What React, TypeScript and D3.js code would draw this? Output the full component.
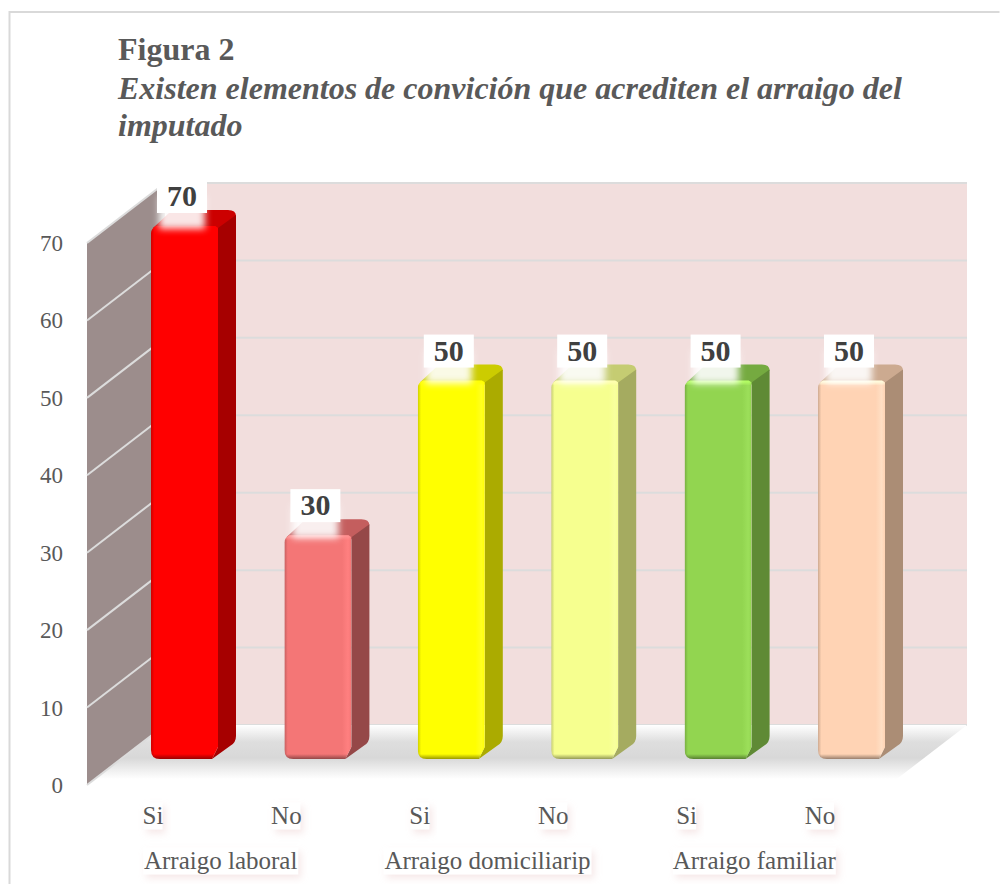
import React from "react";
import * as d3 from "d3";

const categories = ["Si", "No", "Si", "No", "Si", "No"];
const groups = ["Arraigo laboral", "Arraigo domiciliarip", "Arraigo familiar"];
const values = [70, 30, 50, 50, 50, 50];
const yTicks = [0, 10, 20, 30, 40, 50, 60, 70];
const faceColors = ["#FF0000", "#F47676", "#FFFF00", "#F6FF8F", "#92D550", "#FFD3B4"];
const sideColors = ["#A60000", "#954848", "#ABAB00", "#A5AB60", "#5F8A35", "#AB8D75"];
const topColors = ["#CC0000", "#C45E5E", "#CCCC00", "#C5CC72", "#75AA40", "#CCAA90"];
const hiColors = ["#FF0000", "#FF8080", "#FFFF20", "#F8FF9F", "#9CDF5A", "#FFDFC4"];
const labelWidths = [155, 208, 163];

const DX = 78, DY = 60;
const FRONT_LEFT = 87, BACK_RIGHT = 967;
const TEXT = "#595959";

const yFront = d3.scaleLinear().domain([0, 70]).range([785, 243]);
const yBack = (v: number) => yFront(v) - DY;
const yBar = d3.scaleLinear().domain([0, 70]).range([767, 226]);
const BAR_BOTTOM = 759;
const x = d3.scalePoint<number>().domain(d3.range(6)).range([151, 818]);
const BW = 67, SX = 18, SY = 16;
const serif = "'Liberation Serif', serif";

function Label({ cx, cy, text, w, h = 27 }: { cx: number; cy: number; text: string; w: number; h?: number }) {
  return (
    <g>
      <rect x={cx - w / 2} y={cy - h / 2} width={w} height={h} fill="#fff" filter="url(#pinkShadow)" />
      <text x={cx} y={cy + 8} textAnchor="middle" fontFamily={serif} fontSize={25} fill={TEXT}>{text}</text>
    </g>
  );
}

export default function App() {
  const floor = `M${FRONT_LEFT},${yFront(0)}L${FRONT_LEFT + DX},${yBack(0)}L${BACK_RIGHT},${yBack(0)}L${BACK_RIGHT - DX},${yFront(0)}Z`;
  const wall = `M${FRONT_LEFT},${yFront(0)}L${FRONT_LEFT + DX},${yBack(0)}L${FRONT_LEFT + DX},${yBack(70)}L${FRONT_LEFT},${yFront(70)}Z`;
  return (
    <svg width={1000} height={884} style={{ position: "absolute", left: 0, top: 0, display: "block" }}>
      <defs>
        <filter id="pinkShadow" x="-30%" y="-40%" width="170%" height="190%">
          <feDropShadow dx="3" dy="4" stdDeviation="3.5" floodColor="#e8c0c0" floodOpacity="0.35" />
        </filter>
        <filter id="glow" x="-30%" y="-40%" width="160%" height="200%">
          <feGaussianBlur stdDeviation="3.5" />
        </filter>
        <filter id="soft" x="-20%" y="-20%" width="140%" height="140%">
          <feGaussianBlur stdDeviation="1.5" />
        </filter>
        <linearGradient id="floorGrad" gradientUnits="userSpaceOnUse" x1="0" y1={yBack(0)} x2="0" y2={yFront(0)}>
          <stop offset="0" stopColor="#ffffff" />
          <stop offset="0.28" stopColor="#dedede" />
          <stop offset="0.55" stopColor="#d8d8d8" />
          <stop offset="0.78" stopColor="#f2f2f2" />
          <stop offset="0.9" stopColor="#ffffff" />
        </linearGradient>
        <linearGradient id="bottomShade" x1="0" y1="0" x2="0" y2="1">
          <stop offset="0" stopColor="#000" stopOpacity="0" />
          <stop offset="1" stopColor="#000" stopOpacity="0.4" />
        </linearGradient>
        {values.map((_, i) => (
          <linearGradient key={i} id={`face${i}`} x1="0" y1="0" x2="1" y2="0">
            <stop offset="0" stopColor={d3.color(faceColors[i])!.darker(0.6).formatHex()} />
            <stop offset="0.05" stopColor={faceColors[i]} />
            <stop offset="0.86" stopColor={faceColors[i]} />
            <stop offset="0.95" stopColor={hiColors[i]} />
            <stop offset="1" stopColor={faceColors[i]} />
          </linearGradient>
        ))}
        {values.map((v, i) => {
          const x0 = x(i)!, x1 = x0 + BW, top = yBar(v), bot = BAR_BOTTOM;
          return (
            <clipPath key={i} id={`clip${i}`}>
              <path d={`M${x0},${top + 7}Q${x0},${top + 3} ${x0 + 5},${top}H${x1 - 3}L${x1},${top + 2}V${bot - 12}L${x1 - 6},${bot}H${x0 + 9}Q${x0},${bot} ${x0},${bot - 9}Z`} />
            </clipPath>
          );
        })}
      </defs>

      {/* chart frame */}
      <path d="M999.5,12H9.5V884" fill="none" stroke="#d9d9d9" strokeWidth={2} />

      {/* title */}
      <g fontFamily={serif} fontWeight="bold" fill={TEXT}>
        <text x={118} y={60} fontSize={32}>Figura 2</text>
        <text x={118} y={99} fontSize={32} fontStyle="italic">Existen elementos de convición que acrediten el arraigo del</text>
        <text x={118} y={136} fontSize={32} fontStyle="italic">imputado</text>
      </g>

      {/* back wall */}
      <rect x={FRONT_LEFT + DX} y={yBack(70)} width={BACK_RIGHT - FRONT_LEFT - DX} height={yBack(0) - yBack(70)} fill="#F2DEDD" />
      {yTicks.map((t) => (
        <line key={t} x1={FRONT_LEFT + DX} x2={BACK_RIGHT} y1={yBack(t)} y2={yBack(t)} stroke="#dcdcdc" strokeWidth={2} />
      ))}

      {/* floor */}
      <path d={floor} fill="url(#floorGrad)" />

      {/* side wall */}
      <path d={wall} fill="#9C8D8C" />
      {yTicks.map((t) => (
        <line key={t} x1={FRONT_LEFT} x2={FRONT_LEFT + DX} y1={yFront(t)} y2={yBack(t)} stroke="#dcdcdc" strokeWidth={2} />
      ))}

      {/* y axis */}
      {yTicks.map((t) => (
        <text key={t} x={63} y={yFront(t) + 8} textAnchor="end" fontFamily={serif} fontSize={23} fill={TEXT}>{t}</text>
      ))}

      {/* bars */}
      {values.map((v, i) => {
        const x0 = x(i)!;
        const x1 = x0 + BW;
        const top = yBar(v);
        const bot = BAR_BOTTOM;
        const topFace = `M${x0 + 2},${top + 2}L${x0 + SX},${top - SY + 3}Q${x0 + SX + 2},${top - SY} ${x0 + SX + 6},${top - SY}L${x1 + SX - 8},${top - SY}Q${x1 + SX},${top - SY} ${x1 + SX},${top - SY + 6}L${x1},${top + 4}Z`;
        const side = `M${x1},${top + 2}L${x1 + SX},${top - SY + 5}V${bot - 23}Q${x1 + SX},${bot - 16} ${x1 + SX - 6},${bot - 13}L${x1 - 6},${bot}L${x1},${bot - 12}Z`;
        return (
          <g key={i}>
            <path d={topFace} fill={topColors[i]} />
            <path d={side} fill={sideColors[i]} />
            <g clipPath={`url(#clip${i})`}>
              <rect x={x0} y={top} width={BW} height={bot - top} fill={`url(#face${i})`} />
              <rect x={x0} y={top - 2} width={BW} height={5} fill={d3.color(faceColors[i])!.brighter(0.6).formatHex()} filter="url(#soft)" />
              <rect x={x0} y={bot - 5} width={BW} height={5} fill="url(#bottomShade)" />
            </g>
          </g>
        );
      })}

      {/* data labels */}
      {values.map((v, i) => {
        const cx = x(i)! + 31;
        const cy = yBar(v) - 30;
        return (
          <g key={i}>
            <rect x={cx - 23} y={cy} width={46} height={33} fill="#fff" opacity={0.9} filter="url(#glow)" />
            <rect x={cx - 25} y={cy - 16} width={50} height={33} fill="#fff" />
            <text x={cx} y={cy + 10} textAnchor="middle" fontFamily={serif} fontWeight="bold" fontSize={30} fill="#404040">{v}</text>
          </g>
        );
      })}

      {/* category labels */}
      {categories.map((c, i) => (
        <Label key={i} cx={x(i)! + 2} cy={816} text={c} w={c === "Si" ? 19 : 28} />
      ))}
      {groups.map((g, i) => (
        <Label key={i} cx={(x(i * 2)! + x(i * 2 + 1)!) / 2 + 3} cy={861} text={g} w={labelWidths[i]} />
      ))}
    </svg>
  );
}
